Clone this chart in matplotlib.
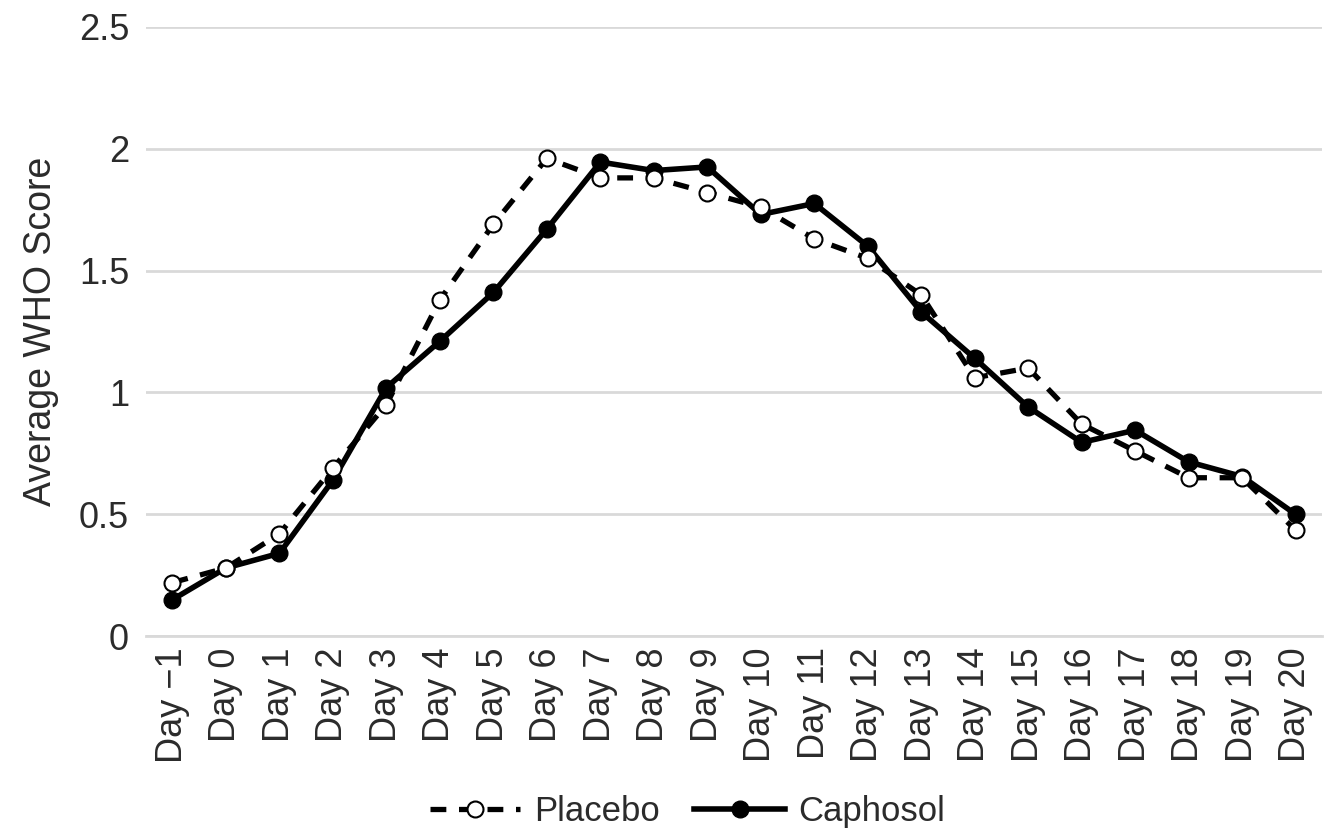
import matplotlib
matplotlib.use('Agg')
import matplotlib.pyplot as plt
import numpy as np

# data
days = ['Day \u22121'] + ['Day {}'.format(d) for d in range(0, 21)]
placebo = [0.22, 0.28, 0.42, 0.69, 0.95, 1.38, 1.69, 1.96, 1.88, 1.88, 1.82, 1.76,
           1.63, 1.55, 1.40, 1.06, 1.10, 0.87, 0.76, 0.65, 0.65, 0.435]
caphosol = [0.15, 0.28, 0.34, 0.64, 1.02, 1.21, 1.41, 1.67, 1.945, 1.91, 1.925, 1.73,
            1.775, 1.60, 1.33, 1.14, 0.94, 0.795, 0.845, 0.715, 0.655, 0.50]
yticks = [0, 0.5, 1, 1.5, 2, 2.5]
ytick_labels = ['0', '0.5', '1', '1.5', '2', '2.5']

plt.rcParams['font.family'] = ['Liberation Sans', 'DejaVu Sans']
txt = '#2b2b2b'

fig = plt.figure(figsize=(13.25, 8.36), dpi=100)
ax = fig.add_axes([0.110, 0.239, 0.888, 0.729])

x = np.arange(len(days))
cap_line, = ax.plot(x, caphosol, color='black', lw=4.0, marker='o', markersize=12,
                    markerfacecolor='black', markeredgecolor='black', zorder=3,
                    label='Caphosol')
plc_line, = ax.plot(x, placebo, color='black', lw=3.8, linestyle=(0, (3.0, 2.4)),
                    marker='o', markersize=11.5, markerfacecolor='white',
                    markeredgecolor='black', markeredgewidth=1.5, zorder=4,
                    label='Placebo')

ax.set_xlim(-0.5, len(days) - 0.5)
ax.set_ylim(0, 2.5)
ax.set_yticks(yticks)
ax.set_yticklabels(ytick_labels)
ax.set_xticks(x)
ax.set_xticklabels(days, rotation=90)
ax.tick_params(axis='both', length=0, labelsize=26, colors=txt)
ax.tick_params(axis='y', pad=12)
ax.tick_params(axis='x', pad=8)

ax.grid(axis='y', color='#d9d9d9', lw=2)
ax.set_axisbelow(True)
for s in ['top', 'right', 'left']:
    ax.spines[s].set_visible(False)
ax.spines['bottom'].set_color('#d9d9d9')
ax.spines['bottom'].set_linewidth(2)

ax.set_ylabel('Average WHO Score', fontsize=27, color=txt, labelpad=14)

fig.legend([plc_line, cap_line], ['Placebo', 'Caphosol'], loc='center',
           bbox_to_anchor=(0.519, 0.029), ncol=2, frameon=False, fontsize=25,
           handlelength=2.6, handletextpad=0.4, columnspacing=1.0,
           labelcolor=txt)

fig.savefig('out.png', dpi=100)
